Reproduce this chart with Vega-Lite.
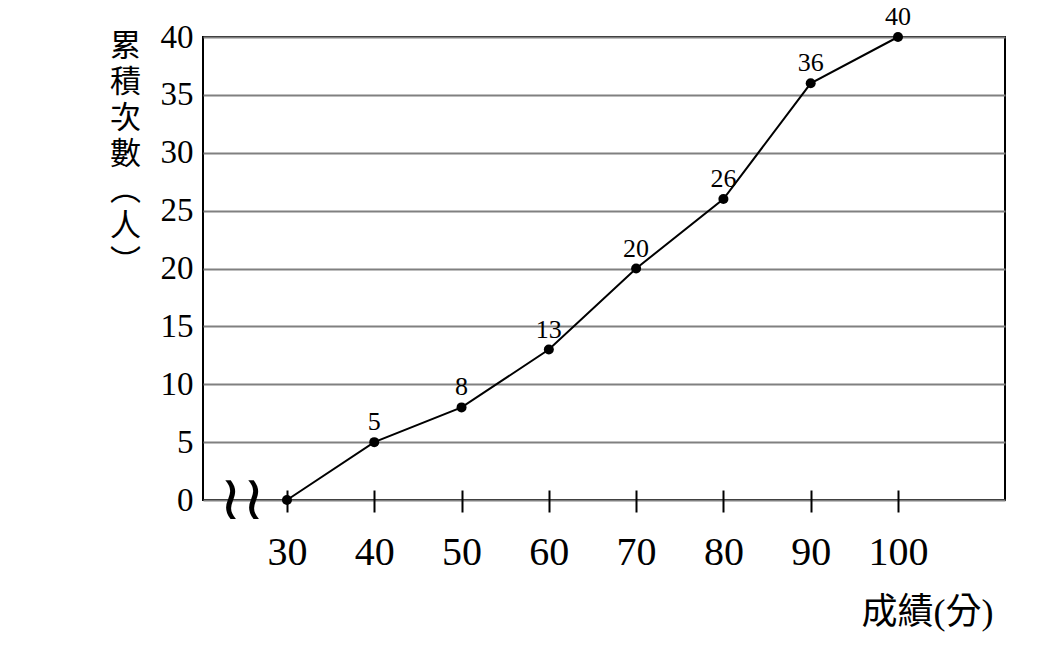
{
  "$schema": "https://vega.github.io/schema/vega-lite/v6.json",
  "width": 802,
  "height": 463,
  "autosize": {"type": "none"},
  "padding": {"left": 203, "top": 37, "right": 45, "bottom": 160},
  "background": "white",
  "config": {
    "view": {"stroke": "black", "strokeWidth": 2},
    "font": "Liberation Serif, Noto Sans CJK TC"
  },
  "datasets": {
    "pts": [
      {"score": 30, "cum": 0},
      {"score": 40, "cum": 5},
      {"score": 50, "cum": 8},
      {"score": 60, "cum": 13},
      {"score": 70, "cum": 20},
      {"score": 80, "cum": 26},
      {"score": 90, "cum": 36},
      {"score": 100, "cum": 40}
    ],
    "brk": [
      {"score": 24.8, "cum": 0, "sym": "≀≀"}
    ]
  },
  "data": {"name": "pts"},
  "encoding": {
    "x": {
      "field": "score",
      "type": "quantitative",
      "scale": {"domain": [20.38, 112.26], "nice": false, "zero": false},
      "axis": {
        "title": "成績(分)",
        "values": [30, 40, 50, 60, 70, 80, 90, 100],
        "grid": false,
        "domain": false,
        "ticks": true,
        "tickColor": "black",
        "tickWidth": 2,
        "tickSize": 22,
        "offset": -10,
        "labelFontSize": 40,
        "labelPadding": 20,
        "labelColor": "black",
        "labelFont": "Liberation Serif",
        "labelFlush": false,
        "labelOverlap": false,
        "titleFontSize": 36,
        "titleFont": "Liberation Serif, Noto Sans CJK TC",
        "titleFontWeight": "normal",
        "titleColor": "black",
        "titleAlign": "right",
        "titleX": 790,
        "titleY": 133,
        "titleBaseline": "alphabetic"
      }
    },
    "y": {
      "field": "cum",
      "type": "quantitative",
      "scale": {"domain": [0, 40], "nice": false},
      "axis": {
        "title": ["累", "積", "次", "數", "︵", "人", "︶"],
        "values": [0, 5, 10, 15, 20, 25, 30, 35, 40],
        "grid": true,
        "gridColor": "#808080",
        "gridWidth": 2,
        "domain": false,
        "ticks": false,
        "labelFontSize": 33,
        "labelPadding": 10,
        "labelColor": "black",
        "labelFont": "Liberation Serif",
        "labelFlush": false,
        "labelOverlap": false,
        "titleAngle": 0,
        "titleFontSize": 31,
        "titleFont": "Noto Sans CJK TC",
        "titleFontWeight": "normal",
        "titleColor": "black",
        "titleLineHeight": 36,
        "titleAlign": "center",
        "titleBaseline": "top",
        "titleX": -78,
        "titleY": -6
      }
    }
  },
  "layer": [
    {"mark": {"type": "line", "color": "black", "strokeWidth": 2}},
    {"mark": {"type": "point", "filled": true, "color": "black", "size": 100, "opacity": 1}},
    {
      "transform": [{"filter": "datum.cum > 0"}],
      "mark": {"type": "text", "dy": -20, "fontSize": 26, "font": "Liberation Serif", "color": "black", "baseline": "middle", "align": "center"},
      "encoding": {"text": {"field": "cum", "type": "quantitative"}}
    },
    {
      "data": {"name": "brk"},
      "mark": {"type": "text", "fontSize": 62, "font": "DejaVu Serif", "color": "black", "baseline": "middle", "align": "center"},
      "encoding": {"text": {"field": "sym", "type": "nominal"}}
    }
  ]
}
